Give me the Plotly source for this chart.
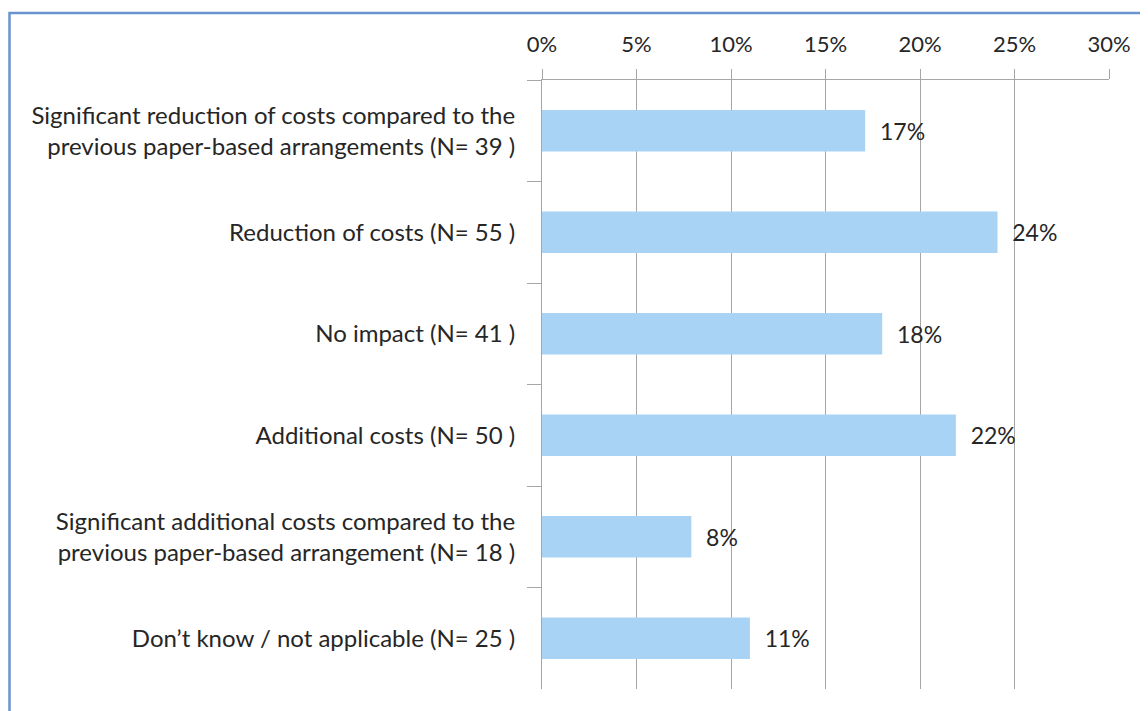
import plotly.graph_objects as go

categories = [
    "Significant reduction of costs compared to the<br>previous paper-based arrangements (N= 39 )",
    "Reduction of costs (N= 55 )",
    "No impact (N= 41 )",
    "Additional costs (N= 50 )",
    "Significant additional costs compared to the<br>previous paper-based arrangement (N= 18 )",
    "Don\u2019t know / not applicable (N= 25 )",
]
values = [17.1, 24.1, 18.0, 21.9, 7.9, 11.0]
tick_vals = [0, 5, 10, 15, 20, 25, 30]
tick_text = ["0%", "5%", "10%", "15%", "20%", "25%", "30%"]

font_family = "Lato, 'Open Sans', sans-serif"
text_color = "#262626"
grid_color = "#A6A6A6"

# page body has an 8px margin; figure sized to fit the window
W, H = 1140, 703
L, T = 534, 72
R, B = W - 1101, H - 681
plot_w, plot_h = W - L - R, H - T - B

fig = go.Figure()
fig.add_trace(go.Bar(
    x=values,
    y=categories,
    orientation="h",
    marker=dict(color="#A9D3F4", line=dict(width=0)),
    texttemplate="\u00a0\u00a0%{x:.0f}%",
    textposition="outside",
    cliponaxis=False,
    textfont=dict(family=font_family, size=23, color=text_color),
    hoverinfo="skip",
))

fig.update_layout(
    width=W,
    height=H,
    margin=dict(l=L, r=R, t=T, b=B, pad=0),
    paper_bgcolor="white",
    plot_bgcolor="white",
    bargap=0.59,
    showlegend=False,
    font=dict(family=font_family, size=23, color=text_color),
    xaxis=dict(
        side="top",
        range=[0, 30],
        tickvals=tick_vals,
        ticktext=tick_text,
        showgrid=True,
        gridcolor=grid_color,
        gridwidth=1,
        showline=True,
        linecolor=grid_color,
        linewidth=1,
        ticks="outside",
        ticklen=10,
        tickcolor=grid_color,
        ticklabelstandoff=8,
        zeroline=False,
        tickfont=dict(family=font_family, size=22, color=text_color),
    ),
    yaxis=dict(
        autorange="reversed",
        type="category",
        showline=True,
        linecolor=grid_color,
        linewidth=1,
        ticks="outside",
        tickson="boundaries",
        ticklen=14,
        tickcolor=grid_color,
        ticklabelstandoff=21,
        showgrid=False,
        tickfont=dict(family=font_family, size=24, color=text_color),
    ),
    shapes=[dict(
        type="rect",
        xref="paper", yref="paper",
        x0=(1.5 - L) / plot_w, x1=1.2,
        y0=-0.2, y1=(plot_h + T - 5) / plot_h,
        line=dict(color="#6A93CF", width=2.5),
        fillcolor="rgba(0,0,0,0)",
        layer="below",
    )],
)

fig.write_html("out.html")
